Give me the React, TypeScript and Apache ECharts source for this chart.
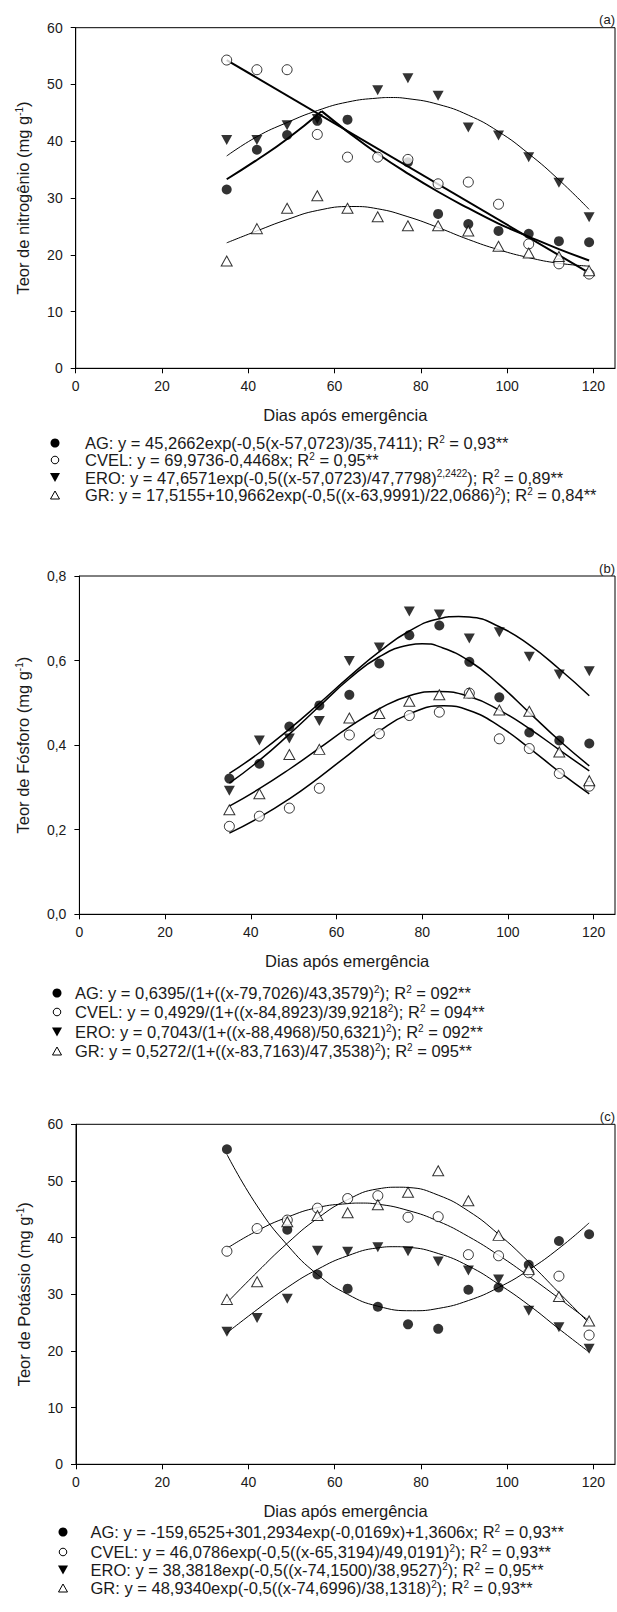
import React, { useEffect, useRef } from "react";
import * as echarts from "echarts";

// ---------- data ----------
const days = [35, 42, 49, 56, 63, 70, 77, 84, 91, 98, 105, 112, 119];
const xTickValues = [0, 20, 40, 60, 80, 100, 120];

// (a) nitrogen, mg/g
const nAG = [31.5, 38.5, 41.1, 43.6, 43.8, null, 36.3, 27.2, 25.4, 24.2, 23.7, 22.4, 22.2];
const nCVEL = [54.3, 52.6, 52.6, 41.2, 37.2, 37.2, 36.8, 32.5, 32.8, 28.9, 21.9, 18.4, 16.6];
const nERO = [40.2, 40.2, 42.8, 43.9, null, 49.0, 51.1, 48.0, 42.4, 41.0, 37.2, 32.7, 26.6];
const nGR = [18.9, 24.6, 28.2, 30.4, 28.2, 26.7, 25.1, 25.1, 24.2, 21.5, 20.3, 19.7, 17.2];
const nAGFitLeftDays = [35, 42, 49, 57];
const nAGFitLeft = [33.3, 36.7, 40.4, 45.3];
const nAGFitRightDays = [57, 63, 70, 77, 84, 91, 98, 105, 112, 119];
const nAGFitRight = [45.3, 41.7, 37.8, 34.3, 31.1, 28.2, 25.5, 23.2, 21.0, 19.0];
const nCVELFitDays = [35, 119];
const nCVELFit = [54.3, 16.8];
const nEROFitDays = [35, 42, 49, 56, 63, 70, 73, 77, 84, 91, 98, 105, 112, 119];
const nEROFit = [37.4, 40.8, 43.3, 45.4, 46.9, 47.6, 47.7, 47.5, 46.5, 44.6, 41.7, 37.8, 33.2, 28.0];
const nGRFitDays = [35, 42, 49, 56, 64, 70, 77, 84, 91, 98, 105, 112, 119];
const nGRFit = [22.1, 24.2, 26.2, 27.8, 28.5, 28.1, 26.7, 24.8, 22.7, 20.9, 19.5, 18.5, 18.0];

// (b) phosphorus, mg/g
const pAG = [0.321, 0.356, 0.444, 0.494, 0.519, 0.593, 0.66, 0.683, 0.597, 0.513, 0.43, 0.411, 0.404];
const pCVEL = [0.208, 0.232, 0.251, 0.298, 0.424, 0.427, 0.47, 0.478, 0.523, 0.415, 0.392, 0.333, 0.303];
const pERO = [0.292, 0.411, 0.416, 0.457, 0.599, 0.631, 0.716, 0.709, 0.652, 0.667, 0.609, 0.567, 0.575];
const pGR = [0.247, 0.285, 0.378, 0.39, 0.464, 0.475, 0.504, 0.519, 0.523, 0.483, 0.48, 0.384, 0.316];
const pAGFitDays = [35, 42, 49, 56, 63, 70, 77, 80, 84, 91, 98, 105, 112, 119];
const pAGFit = [0.31, 0.364, 0.426, 0.492, 0.557, 0.609, 0.637, 0.64, 0.633, 0.599, 0.543, 0.477, 0.411, 0.351];
const pCVELFitDays = [35, 42, 49, 56, 63, 70, 77, 85, 91, 98, 105, 112, 119];
const pCVELFit = [0.192, 0.229, 0.273, 0.324, 0.379, 0.433, 0.474, 0.493, 0.482, 0.445, 0.393, 0.337, 0.285];
const pEROFitDays = [35, 42, 49, 56, 63, 70, 77, 84, 88.5, 91, 98, 105, 112, 119];
const pEROFit = [0.333, 0.382, 0.438, 0.499, 0.562, 0.621, 0.67, 0.699, 0.704, 0.703, 0.68, 0.637, 0.58, 0.517];
const pGRFitDays = [35, 42, 49, 56, 63, 70, 77, 84, 91, 98, 105, 112, 119];
const pGRFit = [0.256, 0.297, 0.343, 0.393, 0.443, 0.486, 0.517, 0.527, 0.515, 0.483, 0.439, 0.389, 0.339];

// (c) potassium, mg/g
const kAG = [55.6, null, 41.4, 33.5, 31.0, 27.8, 24.7, 23.9, 30.8, 31.2, 35.2, 39.4, 40.6];
const kCVEL = [37.6, 41.6, 43.1, 45.2, 46.9, 47.4, 43.6, 43.7, 37.0, 36.8, 33.8, 33.2, 22.8];
const kERO = [23.4, 25.8, 29.2, 37.7, 37.5, 38.3, 37.6, 35.8, 34.2, 32.6, 27.1, 24.2, 20.4];
const kGR = [29.1, 32.2, 42.8, 43.9, 44.4, 45.8, 48.0, 51.8, 46.5, 40.4, 34.4, 29.6, 25.3];
const kAGFitDays = [35, 42, 49, 56, 63, 70, 78, 84, 91, 98, 105, 112, 119];
const kAGFit = [54.7, 45.6, 38.7, 33.5, 30.0, 27.9, 27.1, 27.5, 28.9, 31.2, 34.3, 38.1, 42.6];
const kCVELFitDays = [35, 42, 49, 56, 63, 66, 70, 77, 84, 91, 98, 105, 112, 119];
const kCVELFit = [38.1, 41.2, 43.6, 45.3, 46.0, 46.1, 45.9, 44.8, 42.9, 40.2, 36.9, 33.2, 29.3, 25.3];
const kEROFitDays = [35, 42, 49, 56, 63, 70, 74, 77, 84, 91, 98, 105, 112, 119];
const kEROFit = [23.2, 27.3, 31.2, 34.4, 36.8, 38.2, 38.4, 38.3, 37.2, 35.0, 31.8, 28.1, 23.9, 19.8];
const kGRFitDays = [35, 42, 49, 56, 63, 70, 75, 77, 84, 91, 98, 105, 112, 119];
const kGRFit = [28.5, 33.9, 39.0, 43.4, 46.7, 48.6, 48.9, 48.85, 47.5, 44.7, 40.6, 35.7, 30.3, 24.9];

// legend texts (rich: t = normal, s = superscript)
const legendA = [
  "{t|AG: y = 45,2662exp(-0,5(x-57,0723)/35,7411); R}{s|2}{t| = 0,93**}",
  "{t|CVEL: y = 69,9736-0,4468x; R}{s|2}{t| = 0,95**}",
  "{t|ERO: y = 47,6571exp(-0,5((x-57,0723)/47,7798)}{s|2,2422}{t|); R}{s|2}{t| = 0,89**}",
  "{t|GR: y = 17,5155+10,9662exp(-0,5((x-63,9991)/22,0686)}{s|2}{t|); R}{s|2}{t| = 0,84**}",
];
const legendB = [
  "{t|AG: y = 0,6395/(1+((x-79,7026)/43,3579)}{s|2}{t|); R}{s|2}{t| = 092**}",
  "{t|CVEL: y = 0,4929/(1+((x-84,8923)/39,9218}{s|2}{t|); R}{s|2}{t| = 094**}",
  "{t|ERO: y = 0,7043/(1+((x-88,4968)/50,6321)}{s|2}{t|); R}{s|2}{t| = 092**}",
  "{t|GR: y = 0,5272/(1+((x-83,7163)/47,3538)}{s|2}{t|); R}{s|2}{t| = 095**}",
];
const legendC = [
  "{t|AG: y = -159,6525+301,2934exp(-0,0169x)+1,3606x; R}{s|2}{t| = 0,93**}",
  "{t|CVEL: y = 46,0786exp(-0,5((x-65,3194)/49,0191)}{s|2}{t|); R}{s|2}{t| = 0,93**}",
  "{t|ERO: y = 38,3818exp(-0,5((x-74,1500)/38,9527)}{s|2}{t|); R}{s|2}{t| = 0,95**}",
  "{t|GR: y = 48,9340exp(-0,5((x-74,6996)/38,1318)}{s|2}{t|); R}{s|2}{t| = 0,93**}",
];

const FONT = '"Liberation Sans", Arial, Helvetica, sans-serif';
const TICK_FS = 14;
const TITLE_FS = 16.5;
const LEG_FS = 16.5;
const TXT = "#1a1a1a";

function pairs(xs: number[], ys: (number | null)[]) {
  const out: number[][] = [];
  xs.forEach((x, i) => {
    const v = ys[i];
    if (v !== null && v !== undefined) out.push([x, v]);
  });
  return out;
}

const markerStyles: Record<string, any> = {
  AG: { symbol: "circle", symbolSize: 10, itemStyle: { color: "#000" } },
  CVEL: { symbol: "circle", symbolSize: 10, itemStyle: { color: "#fff", borderColor: "#000", borderWidth: 1 } },
  ERO: { symbol: "triangle", symbolRotate: 180, symbolSize: [11, 10], itemStyle: { color: "#000" } },
  GR: { symbol: "triangle", symbolSize: [11, 10], itemStyle: { color: "#fff", borderColor: "#000", borderWidth: 1 } },
};

type Panel = {
  grid: { left: number; top: number; width: number; height: number };
  yMax: number;
  yInterval: number;
  yFmt: (v: number) => string;
  yName: string;
  yNameGap: number;
  points: Record<string, (number | null)[]>;
  fits: { xs: number[]; ys: number[]; w: number }[];
  tag: string;
  legend: string[];
  legSymX: number;
  legTextX: number;
  legY: number[];
};

const panels: Panel[] = [
  {
    grid: { left: 75.7, top: 27.7, width: 539.3, height: 340.6 },
    yMax: 60,
    yInterval: 10,
    yFmt: (v) => String(v),
    yName: "Teor de nitrogênio (mg g{sup|-1})",
    yNameGap: 44,
    points: { AG: nAG, CVEL: nCVEL, ERO: nERO, GR: nGR },
    fits: [
      { xs: nAGFitLeftDays, ys: nAGFitLeft, w: 2 },
      { xs: nAGFitRightDays, ys: nAGFitRight, w: 2 },
      { xs: nCVELFitDays, ys: nCVELFit, w: 2 },
      { xs: nEROFitDays, ys: nEROFit, w: 1 },
      { xs: nGRFitDays, ys: nGRFit, w: 1 },
    ],
    tag: "(a)",
    legend: legendA,
    legSymX: 55,
    legTextX: 85,
    legY: [443, 460, 477.5, 495],
  },
  {
    grid: { left: 79.4, top: 576, width: 535.6, height: 338.3 },
    yMax: 0.8,
    yInterval: 0.2,
    yFmt: (v) => v.toFixed(1).replace(".", ","),
    yName: "Teor de Fósforo (mg g{sup|-1})",
    yNameGap: 48,
    points: { AG: pAG, CVEL: pCVEL, ERO: pERO, GR: pGR },
    fits: [
      { xs: pAGFitDays, ys: pAGFit, w: 1.5 },
      { xs: pCVELFitDays, ys: pCVELFit, w: 1.5 },
      { xs: pEROFitDays, ys: pEROFit, w: 1.5 },
      { xs: pGRFitDays, ys: pGRFit, w: 1.5 },
    ],
    tag: "(b)",
    legend: legendB,
    legSymX: 57,
    legTextX: 75,
    legY: [993, 1012, 1032, 1051],
  },
  {
    grid: { left: 76, top: 1124.3, width: 539, height: 340 },
    yMax: 60,
    yInterval: 10,
    yFmt: (v) => String(v),
    yName: "Teor de Potássio (mg g{sup|-1})",
    yNameGap: 44,
    points: { AG: kAG, CVEL: kCVEL, ERO: kERO, GR: kGR },
    fits: [
      { xs: kAGFitDays, ys: kAGFit, w: 1 },
      { xs: kCVELFitDays, ys: kCVELFit, w: 1 },
      { xs: kEROFitDays, ys: kEROFit, w: 1 },
      { xs: kGRFitDays, ys: kGRFit, w: 1 },
    ],
    tag: "(c)",
    legend: legendC,
    legSymX: 63,
    legTextX: 90.5,
    legY: [1532, 1552, 1570, 1588],
  },
];

function legendSymbol(kind: string, cx: number, cy: number): any {
  if (kind === "AG") return { type: "circle", shape: { cx, cy, r: 4.5 }, style: { fill: "#000" } };
  if (kind === "CVEL")
    return { type: "circle", shape: { cx, cy, r: 3.8 }, style: { fill: "#fff", stroke: "#000", lineWidth: 1 } };
  if (kind === "ERO")
    return {
      type: "polygon",
      shape: { points: [[cx - 5, cy - 4.5], [cx + 5, cy - 4.5], [cx, cy + 4.5]] },
      style: { fill: "#000" },
    };
  return {
    type: "polygon",
    shape: { points: [[cx - 4.5, cy + 4], [cx + 4.5, cy + 4], [cx, cy - 4]] },
    style: { fill: "#fff", stroke: "#000", lineWidth: 1 },
  };
}

function buildOption() {
  const grids: any[] = [];
  const xAxes: any[] = [];
  const yAxes: any[] = [];
  const series: any[] = [];
  const graphic: any[] = [];
  const kinds = ["AG", "CVEL", "ERO", "GR"];

  panels.forEach((p, i) => {
    grids.push({
      ...p.grid,
      show: true,
      borderColor: "#000",
      borderWidth: 1,
      backgroundColor: "transparent",
      containLabel: false,
    });
    xAxes.push({
      gridIndex: i,
      type: "value",
      min: 0,
      max: 125,
      interval: 20,
      name: "Dias após emergência",
      nameLocation: "middle",
      nameGap: 38,
      nameTextStyle: { fontFamily: FONT, fontSize: TITLE_FS, color: TXT },
      axisLine: { show: true, lineStyle: { color: "#000", width: 1 } },
      axisTick: { show: true, length: 5, lineStyle: { color: "#000" }, customValues: xTickValues },
      axisLabel: {
        fontFamily: FONT,
        fontSize: TICK_FS,
        color: TXT,
        margin: 11,
        customValues: xTickValues,
      },
      splitLine: { show: false },
    });
    yAxes.push({
      gridIndex: i,
      type: "value",
      min: 0,
      max: p.yMax,
      interval: p.yInterval,
      name: p.yName,
      nameLocation: "middle",
      nameGap: p.yNameGap,
      nameTextStyle: {
        fontFamily: FONT,
        fontSize: TITLE_FS,
        color: TXT,
        rich: { sup: { fontFamily: FONT, fontSize: 10, color: TXT, verticalAlign: "top" } },
      },
      axisLine: { show: true, lineStyle: { color: "#000", width: 1 } },
      axisTick: { show: true, length: 5, lineStyle: { color: "#000" } },
      axisLabel: { fontFamily: FONT, fontSize: TICK_FS, color: TXT, margin: 13, formatter: p.yFmt },
      splitLine: { show: false },
    });

    p.fits.forEach((f, j) => {
      series.push({
        type: "line",
        name: `fit-${i}-${j}`,
        xAxisIndex: i,
        yAxisIndex: i,
        data: pairs(f.xs, f.ys),
        smooth: 0.5,
        showSymbol: false,
        symbol: "none",
        lineStyle: { color: "#000", width: f.w },
        z: 2,
        silent: true,
      });
    });

    kinds.forEach((k, j) => {
      series.push({
        type: "scatter",
        name: `${k}-${i}`,
        xAxisIndex: i,
        yAxisIndex: i,
        data: pairs(days, p.points[k]),
        ...markerStyles[k],
        z: 3 + j,
      });
    });

    graphic.push({
      type: "text",
      x: 615,
      y: p.grid.top - 8,
      style: {
        text: p.tag,
        fontFamily: FONT,
        fontSize: 13,
        fill: TXT,
        align: "right",
        verticalAlign: "middle",
      },
    });

    p.legend.forEach((txt, j) => {
      graphic.push(legendSymbol(kinds[j], p.legSymX, p.legY[j]));
      graphic.push({
        type: "text",
        x: p.legTextX,
        y: p.legY[j],
        style: {
          text: txt,
          align: "left",
          verticalAlign: "middle",
          rich: {
            t: { fontFamily: FONT, fontSize: LEG_FS, fill: TXT, lineHeight: 18 },
            s: { fontFamily: FONT, fontSize: 10, fill: TXT, verticalAlign: "top", lineHeight: 10 },
          },
        },
      });
    });
  });

  return {
    animation: false,
    backgroundColor: "#fff",
    grid: grids,
    xAxis: xAxes,
    yAxis: yAxes,
    series,
    graphic,
  };
}

export default function App() {
  const ref = useRef<HTMLDivElement>(null);
  useEffect(() => {
    if (!ref.current) return;
    const chart = echarts.init(ref.current, undefined, { renderer: "svg" });
    chart.setOption(buildOption());
    return () => chart.dispose();
  }, []);
  return (
    <div
      ref={ref}
      style={{ position: "absolute", left: 0, top: 0, width: 617, height: 1612, background: "#fff" }}
    />
  );
}
